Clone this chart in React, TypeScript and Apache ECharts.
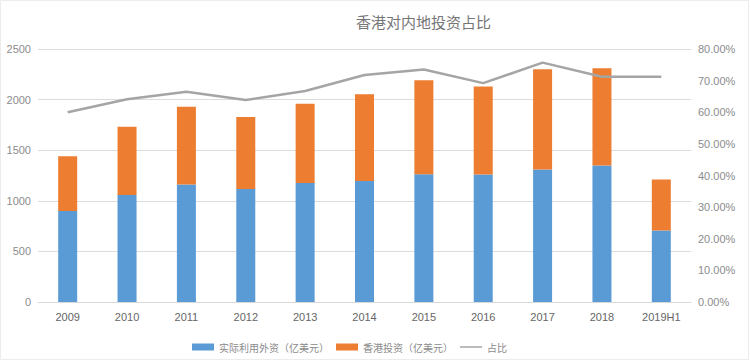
import React, { useEffect, useRef } from "react";
import * as echarts from "echarts";

const categories = ["2009", "2010", "2011", "2012", "2013", "2014", "2015", "2016", "2017", "2018", "2019H1"];
const fdiValues = [900, 1057, 1160, 1117, 1176, 1196, 1263, 1260, 1310, 1350, 706];
const hkValues = [540, 675, 770, 712, 783, 857, 927, 870, 990, 960, 504];
const shareValues = [0.6, 0.641, 0.665, 0.639, 0.667, 0.718, 0.735, 0.692, 0.757, 0.712, 0.712];
const leftTicks = { min: 0, max: 2500, interval: 500 };
const rightTicks = { min: 0, max: 0.8, interval: 0.1 };

const FONT = '"Noto Sans CJK SC", "Noto Sans", sans-serif';
const LATIN = '"Liberation Sans", Arial, sans-serif';
const LINE_ICON = "path://M0,0L0.01,0L0.01,0.01L0,0.01Z M0,2.8L22,2.8L22,4.2L0,4.2Z M0,6.99L0.01,6.99L0.01,7L0,7Z";

export default function App() {
  const ref = useRef<HTMLDivElement>(null);
  useEffect(() => {
    document.body.style.margin = "0";
    const chart = echarts.init(ref.current!, null, { renderer: "svg" });
    chart.setOption({
      animation: false,
      backgroundColor: "#ffffff",
      textStyle: { fontFamily: FONT },
      title: {
        text: "香港对内地投资占比",
        left: 351,
        top: 9,
        textStyle: { fontSize: 15, fontWeight: "normal", color: "#767676", fontFamily: FONT },
      },
      graphic: [
        {
          type: "rect",
          shape: { x: 0.5, y: 0.5, width: 748, height: 359 },
          style: { fill: "none", stroke: "#ececec", lineWidth: 1 },
          silent: true,
        },
      ],
      legend: {
        left: 187,
        top: 337,
        itemWidth: 22,
        itemHeight: 7,
        itemGap: 7,
        textStyle: { fontSize: 10, color: "#8a8a8a", fontFamily: FONT },
        data: [
          { name: "实际利用外资（亿美元）", icon: "rect" },
          { name: "香港投资（亿美元）", icon: "rect" },
          { name: "占比", icon: LINE_ICON },
        ],
      },
      grid: { left: 38, right: 59, top: 49, bottom: 59 },
      xAxis: {
        type: "category",
        data: categories,
        axisLine: { lineStyle: { color: "#d9d9d9" } },
        axisTick: { show: false },
        axisLabel: { color: "#666666", fontSize: 11, margin: 9, fontFamily: LATIN },
      },
      yAxis: [
        {
          type: "value",
          ...leftTicks,
          axisLine: { show: false },
          axisTick: { show: false },
          axisLabel: {
            color: "#8c8c8c",
            fontSize: 11,
            margin: 7,
            fontFamily: LATIN,
            formatter: (v: number) => String(v),
          },
          splitLine: { lineStyle: { color: "#dcdcdc" } },
        },
        {
          type: "value",
          ...rightTicks,
          position: "right",
          axisLine: { show: false },
          axisTick: { show: false },
          axisLabel: {
            color: "#8c8c8c",
            fontSize: 11,
            margin: 7,
            fontFamily: LATIN,
            formatter: (v: number) => (v * 100).toFixed(2) + "%",
          },
          splitLine: { show: false },
        },
      ],
      series: [
        {
          name: "实际利用外资（亿美元）",
          type: "bar",
          stack: "total",
          barWidth: 19,
          data: fdiValues,
          itemStyle: { color: "#5b9bd5" },
        },
        {
          name: "香港投资（亿美元）",
          type: "bar",
          stack: "total",
          barWidth: 19,
          data: hkValues,
          itemStyle: { color: "#ed7d31" },
        },
        {
          name: "占比",
          type: "line",
          yAxisIndex: 1,
          data: shareValues,
          symbol: "none",
          lineStyle: { color: "#a5a5a5", width: 2.5 },
          itemStyle: { color: "#a5a5a5" },
        },
      ],
    });
    return () => chart.dispose();
  }, []);
  return <div ref={ref} style={{ width: 750, height: 361 }} />;
}
